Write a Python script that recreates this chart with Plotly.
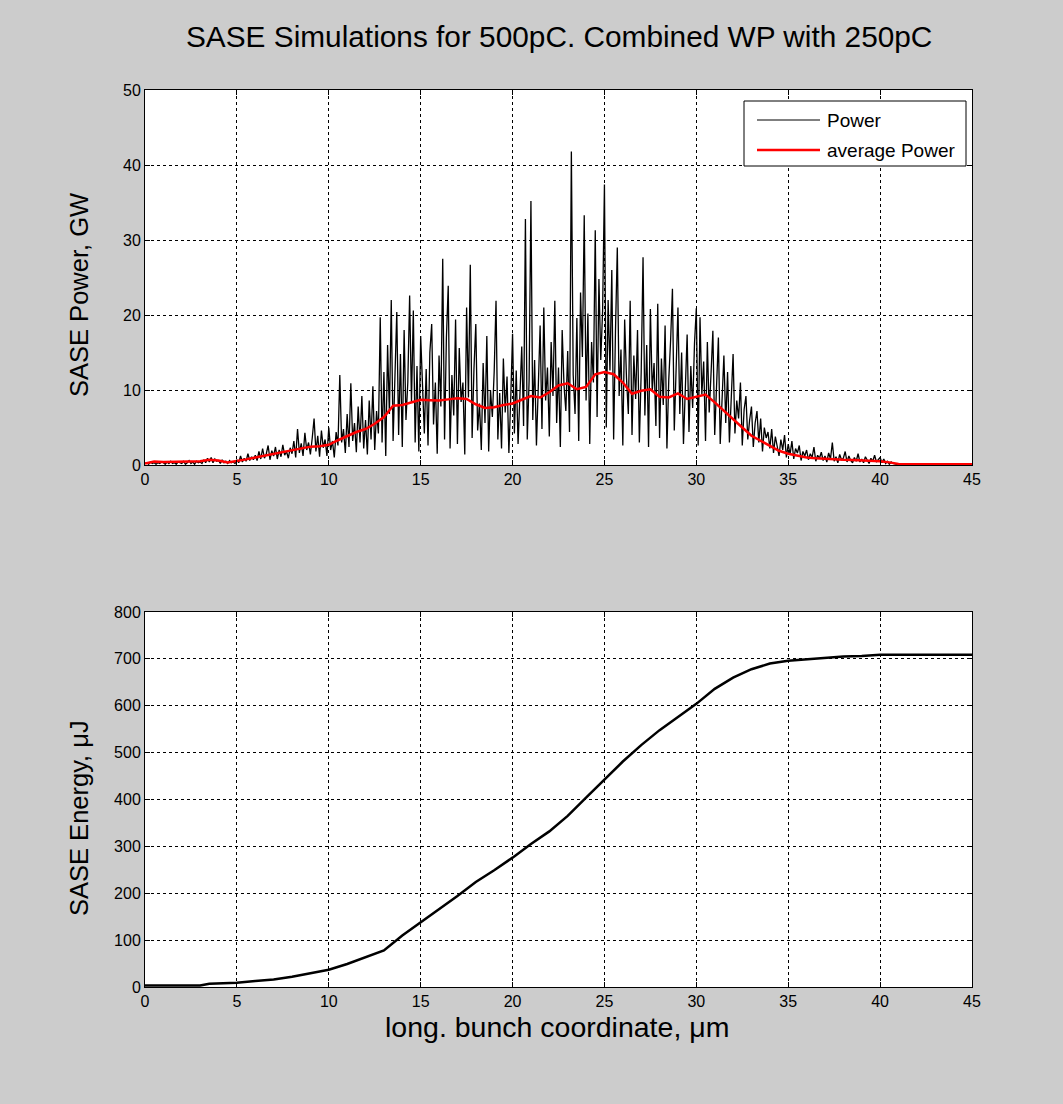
import numpy as np
import plotly.graph_objects as go

# ---------------- data ----------------
x_start, x_step, x_end = 0.0, 0.1, 45.0
power = [
    0.2,0.3,0.1,0.4,0.2,0.3,0.1,0.3,0.2,0.4,
    0.3,0.1,0.4,0.2,0.5,0.2,0.3,0.1,0.4,0.3,
    0.2,0.5,0.1,0.3,0.6,0.2,0.4,0.1,0.5,0.3,
    0.4,0.2,0.7,0.3,0.9,0.4,1.0,0.3,0.8,0.5,
    0.6,0.2,0.7,0.3,0.5,0.2,0.6,0.3,0.4,0.2,
    0.7,0.3,1.2,0.4,0.9,0.5,1.5,0.6,1.1,0.7,
    1.3,0.6,1.8,0.8,2.2,0.9,1.5,2.6,0.7,1.9,
    1.2,2.4,0.8,2.0,1.1,2.7,1.3,1.8,0.9,2.3,
    1.5,3.2,1.0,4.8,1.6,2.9,1.2,4.3,2.0,3.0,
    1.4,3.6,6.2,1.8,3.9,1.1,4.6,2.3,3.4,1.2,
    5.0,2.0,3.2,1.0,4.4,2.6,12.0,3.0,4.8,1.6,
    6.8,2.4,10.9,3.2,5.6,1.7,7.8,3.0,9.2,2.2,
    6.0,1.4,8.6,3.4,10.5,2.0,7.2,4.2,19.7,3.0,
    12.4,1.2,16.0,6.8,22.0,3.2,11.6,20.4,4.0,14.8,
    2.4,18.0,6.0,11.0,22.6,8.4,20.6,3.0,13.2,1.8,
    17.2,9.6,4.2,12.8,2.6,15.0,18.8,5.4,11.0,1.5,
    14.6,7.8,27.5,3.4,17.0,23.9,2.2,12.0,6.6,19.4,
    2.8,15.6,8.4,11.0,1.4,21.0,9.0,26.7,3.6,12.8,
    18.8,4.6,8.2,2.0,13.6,5.6,17.2,1.8,10.0,6.4,
    12.4,21.9,3.4,9.6,2.2,14.2,7.0,11.8,1.6,8.8,
    17.5,4.2,12.6,2.8,9.0,15.8,5.2,32.8,3.4,11.2,
    35.2,6.0,14.0,2.6,10.4,18.6,4.8,21.0,8.6,13.0,
    3.8,16.4,9.2,21.9,5.6,13.0,2.4,18.0,10.6,7.2,
    15.2,4.4,41.8,12.0,6.8,19.6,3.2,23.0,14.4,33.3,
    8.6,20.2,2.8,16.4,11.0,31.3,6.4,24.8,14.0,20.6,
    37.4,5.0,22.0,12.6,26.0,3.4,17.8,29.0,9.2,15.4,
    2.6,19.4,11.6,6.8,21.9,4.0,14.6,8.8,18.0,3.0,
    12.4,27.7,6.6,16.0,2.4,20.8,9.8,13.6,5.2,21.5,
    3.6,14.2,8.0,18.6,2.2,11.4,16.6,23.5,4.6,12.6,
    21.0,6.8,15.0,2.8,10.0,17.4,4.4,13.2,7.6,16.2,
    20.9,2.6,19.7,9.4,13.8,3.2,16.4,7.0,12.2,17.9,
    4.0,11.8,17.0,2.8,9.6,14.6,5.6,12.4,3.0,10.2,
    14.8,4.2,8.6,6.2,11.0,2.6,7.4,9.2,3.4,6.0,
    7.8,2.4,5.6,7.2,3.0,6.2,1.8,5.0,3.6,4.4,
    2.2,4.8,1.6,3.8,2.6,1.2,3.4,2.0,4.0,1.0,
    2.8,1.4,3.2,0.8,2.2,1.6,2.6,0.6,1.8,1.2,
    2.0,0.7,1.5,1.0,2.4,0.5,1.3,0.9,1.7,0.6,
    1.2,0.4,1.6,0.8,3.0,0.5,1.1,0.3,1.4,0.7,
    0.9,1.8,0.4,1.2,0.6,0.3,1.0,0.5,1.5,0.4,
    0.8,0.3,1.1,0.6,0.2,0.9,0.5,1.3,0.4,0.7,
    1.0,0.3,0.8,0.2,0.5,0.1,0.4,0.2,0.1,0.1,
    0.05,0.05,0.05,0.05,0.05,0.05,0.05,0.05,0.05,0.05,
    0.05,0.05,0.05,0.05,0.05,0.05,0.05,0.05,0.05,0.05,
    0.05,0.05,0.05,0.05,0.05,0.05,0.05,0.05,0.05,0.05,
    0.05,0.05,0.05,0.05,0.05,0.05,0.05,0.05,0.05,0.05,
    0.05,
]
avg_x = [0, 0.5, 1, 1.5, 2, 2.5, 3, 3.5, 4, 4.5, 5, 5.5, 6, 6.5, 7, 7.5, 8, 8.5, 9, 9.5,
         10, 10.5, 11, 11.5, 12, 12.5, 13, 13.5, 14, 14.5, 15, 15.5, 16, 16.5, 17, 17.5, 18, 18.5, 19, 19.5,
         20, 20.5, 21, 21.5, 22, 22.5, 23, 23.5, 24, 24.5, 25, 25.5, 26, 26.5, 27, 27.5, 28, 28.5, 29, 29.5,
         30, 30.5, 31, 31.5, 32, 32.5, 33, 33.5, 34, 34.5, 35, 35.5, 36, 36.5, 37, 37.5, 38, 38.5, 39, 39.5,
         40, 40.5, 41, 42, 43, 44, 45]
avg_power = [0.2, 0.45, 0.4, 0.4, 0.45, 0.45, 0.5, 0.7, 0.6, 0.35, 0.5, 0.75, 1.0, 1.25, 1.5, 1.75, 2.0, 2.25, 2.45, 2.5,
             2.7, 3.3, 3.9, 4.4, 4.8, 5.5, 6.4, 7.9, 8.0, 8.35, 8.7, 8.65, 8.6, 8.75, 8.9, 8.8, 8.1, 7.6, 7.7, 8.0,
             8.2, 8.7, 9.2, 9.0, 9.7, 10.6, 10.9, 10.1, 10.4, 12.1, 12.4, 12.1, 11.0, 9.5, 9.9, 10.1, 9.1, 9.0, 9.55, 8.8,
             9.1, 9.4, 8.35, 7.2, 6.1, 5.0, 3.9, 3.2, 2.6, 1.9, 1.5, 1.25, 1.0, 0.9, 0.8, 0.75, 0.7, 0.68, 0.65, 0.6,
             0.5, 0.35, 0.15, 0.1, 0.1, 0.1, 0.1]
energy_x = [0, 1, 2, 3, 3.5, 4, 5, 6, 7, 8, 9, 10, 11, 12, 13, 14, 15, 16, 17, 18, 19,
            20, 21, 22, 23, 24, 25, 26, 27, 28, 29, 30, 31, 32, 33, 34, 35, 36, 37, 38, 39,
            40, 41, 42, 43, 44, 45]
energy = [3, 3, 3, 3, 7, 8, 9, 13, 16, 22, 30, 37, 49, 64, 78, 110, 138, 167, 194, 224, 249,
          276, 305, 332, 365, 404, 442, 481, 516, 548, 576, 604, 636, 660, 678, 690, 696, 699, 702, 705, 706,
          709, 709, 709, 709, 709, 709]
x_ticks = [0, 5, 10, 15, 20, 25, 30, 35, 40, 45]
power_ticks = [0, 10, 20, 30, 40, 50]
energy_ticks = [0, 100, 200, 300, 400, 500, 600, 700, 800]
series_names = ["Power", "average Power"]

x = np.round(np.arange(x_start, x_end + x_step / 2, x_step), 3)[:len(power)]

W, H = 1063, 1104
FONT = "Liberation Sans"
BG = "#cccccc"


def px(v):
    return v / W


def py(v):
    return 1 - v / H


fig = go.Figure()
fig.add_trace(go.Scatter(x=x, y=power, mode="lines", name=series_names[0], showlegend=False,
                         line=dict(color="black", width=1.3), xaxis="x", yaxis="y"))
fig.add_trace(go.Scatter(x=avg_x, y=avg_power, mode="lines", name=series_names[1], showlegend=False,
                         line=dict(color="#ff0000", width=2.5), xaxis="x", yaxis="y"))
fig.add_trace(go.Scatter(x=energy_x, y=energy, mode="lines", showlegend=False,
                         line=dict(color="black", width=2.5), xaxis="x2", yaxis="y2"))

L, R = px(145), px(972)
top_dom = [py(465), py(90)]
bot_dom = [py(987), py(612)]

common = dict(showline=True, linecolor="black", linewidth=1, mirror="ticks",
              ticks="inside", ticklen=5, tickcolor="black", automargin=False,
              showgrid=True, gridcolor="black", gridwidth=1, griddash="3px,3px",
              zeroline=False, tickfont=dict(family=FONT, size=16, color="black"))

fig.update_layout(
    template="none",
    width=W, height=H, autosize=False,
    paper_bgcolor=BG, plot_bgcolor="white",
    margin=dict(l=0, r=0, t=0, b=0, pad=0, autoexpand=False),
    font=dict(family=FONT, color="black"),
    xaxis=dict(domain=[L, R], range=[0, 45], tickvals=x_ticks, anchor="y", **common),
    yaxis=dict(domain=top_dom, range=[0, 50], tickvals=power_ticks, anchor="x", **common),
    xaxis2=dict(domain=[L, R], range=[0, 45], tickvals=x_ticks, anchor="y2", **common),
    yaxis2=dict(domain=bot_dom, range=[0, 800], tickvals=energy_ticks, anchor="x2", **common),
    showlegend=False,
)

# custom legend box (MATLAB-style)
fig.add_shape(type="rect", xref="paper", yref="paper",
              x0=px(744), x1=px(966), y0=py(166), y1=py(101),
              fillcolor="white", line=dict(color="black", width=1), layer="above")
fig.add_shape(type="line", xref="paper", yref="paper",
              x0=px(757), x1=px(820), y0=py(120), y1=py(120),
              line=dict(color="black", width=1), layer="above")
fig.add_shape(type="line", xref="paper", yref="paper",
              x0=px(757), x1=px(820), y0=py(150), y1=py(150),
              line=dict(color="#ff0000", width=2.5), layer="above")
for name, yy in zip(series_names, [120, 150]):
    fig.add_annotation(text=name, x=px(825), y=py(yy), xref="paper", yref="paper",
                       showarrow=False, xanchor="left", yanchor="middle",
                       font=dict(family=FONT, size=19, color="black"))

fig.add_annotation(text="SASE Simulations for 500pC. Combined WP with 250pC",
                   x=px(558.5), y=py(36), xref="paper", yref="paper",
                   showarrow=False, xanchor="center", yanchor="middle",
                   font=dict(family=FONT, size=29.8, color="black"))
fig.add_annotation(text="SASE Power, GW", x=px(79), y=py(295), xref="paper", yref="paper",
                   showarrow=False, textangle=-90, xanchor="center", yanchor="middle",
                   font=dict(family=FONT, size=25.5, color="black"))
fig.add_annotation(text="SASE Energy, μJ", x=px(79), y=py(818), xref="paper", yref="paper",
                   showarrow=False, textangle=-90, xanchor="center", yanchor="middle",
                   font=dict(family=FONT, size=25.5, color="black"))
fig.add_annotation(text="long. bunch coordinate, μm", x=px(557), y=py(1027), xref="paper", yref="paper",
                   showarrow=False, xanchor="center", yanchor="middle",
                   font=dict(family=FONT, size=28.5, color="black"))

fig.write_html(
    "out.html",
    config={"displayModeBar": False},
    post_script=("document.documentElement.style.margin='0';"
                 "document.documentElement.style.overflow='hidden';"
                 "document.body.style.margin='0';"
                 "document.body.style.overflow='hidden';"),
)
